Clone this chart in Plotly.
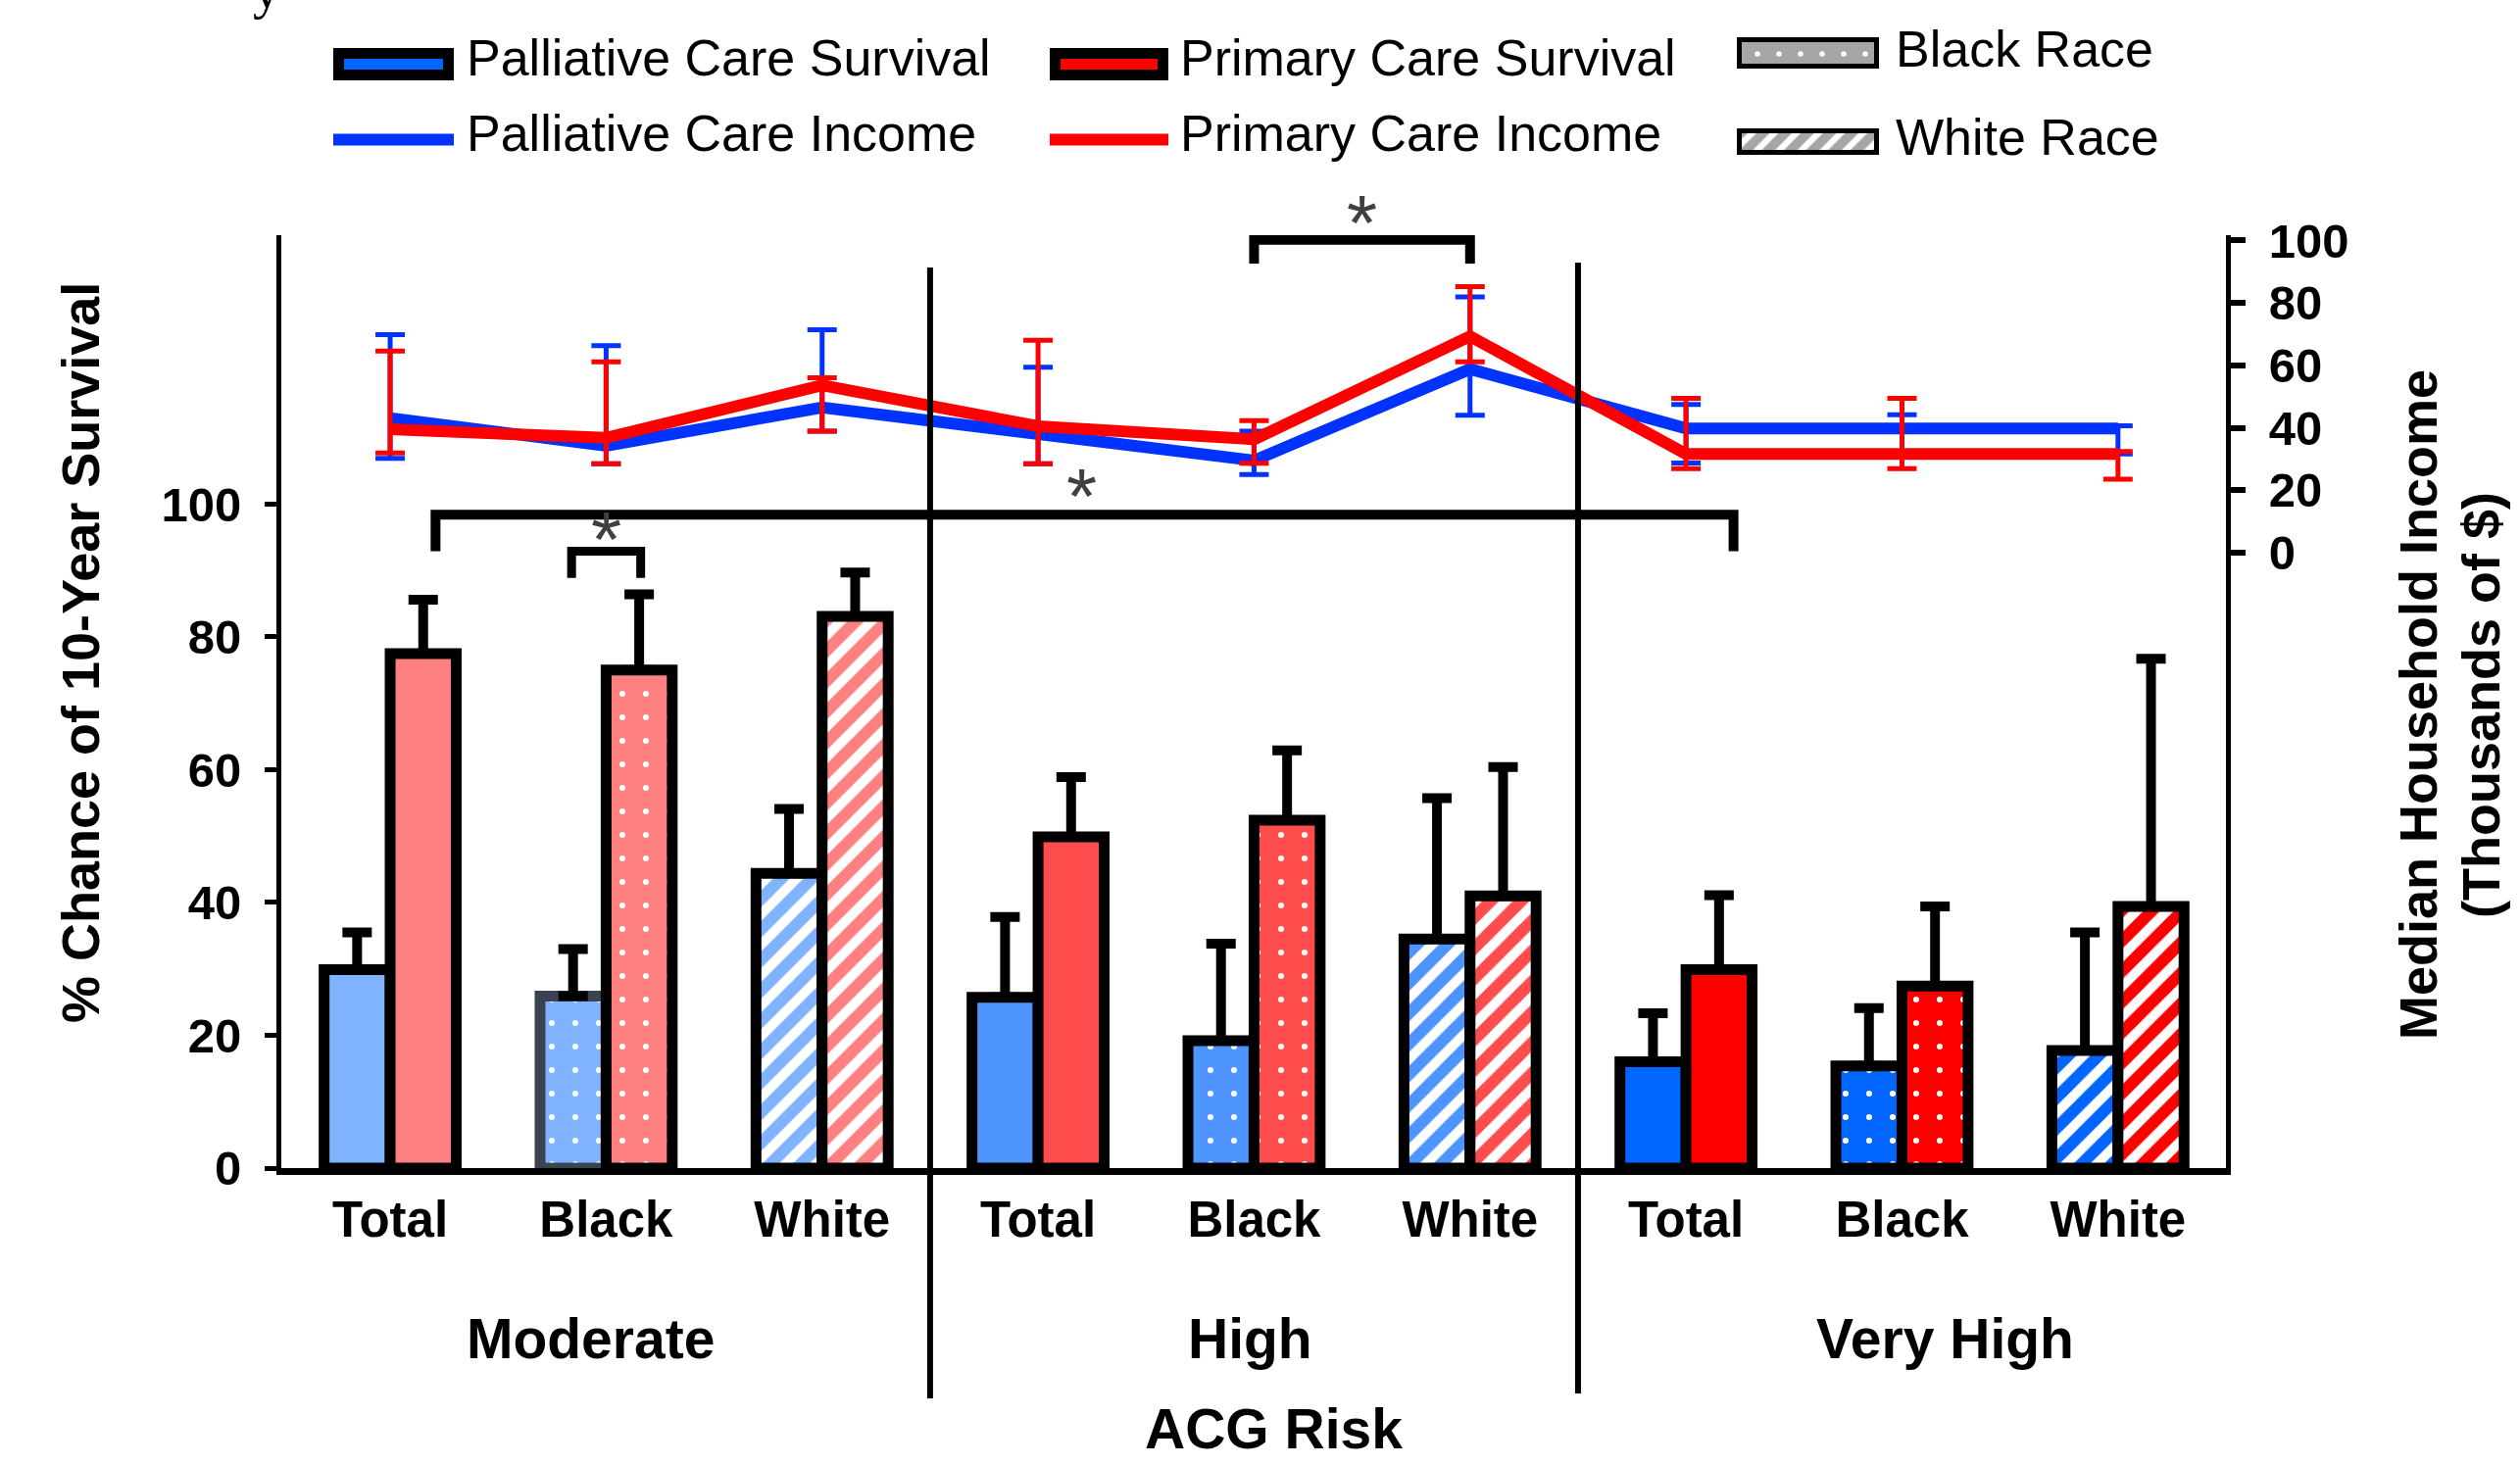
import plotly.graph_objects as go

W, H = 2571, 1495

# ---------------- data ----------------
risk_groups = ["Moderate", "High", "Very High"]
category_labels = ["Total", "Black", "White",
                   "Total", "Black", "White",
                   "Total", "Black", "White"]
race_pattern = ["", ".", "/", "", ".", "/", "", ".", "/"]

# % chance of 10-year survival (bars) and upper error limits
palliative_survival = [29.9, 25.9, 44.4, 25.7, 19.2, 34.5, 16.0, 15.4, 17.7]
palliative_survival_upper = [35.5, 33.0, 54.1, 37.8, 33.8, 55.7, 23.3, 24.1, 35.5]
primary_survival = [77.5, 75.0, 83.1, 49.9, 52.4, 41.0, 29.9, 27.4, 39.4]
primary_survival_upper = [85.6, 86.4, 89.7, 58.9, 62.9, 60.4, 41.1, 39.4, 76.7]

# median household income (thousands of $) lines with error limits
palliative_income = [43.1, 34.2, 46.5, 38.0, 29.5, 58.8, 39.8, 39.8, 39.8]
palliative_income_upper = [69.8, 66.3, 71.4, 59.4, 38.9, 81.9, 47.5, 44.2, 40.6]
palliative_income_lower = [30.2, 28.5, 38.9, 28.5, 25.0, 44.0, 28.7, 31.6, 31.6]
primary_income = [39.5, 36.8, 53.6, 40.5, 36.3, 69.3, 31.6, 31.6, 31.6]
primary_income_upper = [64.6, 61.1, 56.0, 68.0, 42.3, 85.2, 49.4, 49.4, 32.4]
primary_income_lower = [31.9, 28.5, 38.9, 28.5, 28.6, 61.1, 26.9, 26.9, 23.5]

survival_ticks = [0, 20, 40, 60, 80, 100]
income_ticks = [0, 20, 40, 60, 80, 100]

# significance markers: (axis, x start, x end, top level, leg length)
sig_brackets = [
    ("y2", 4.0, 5.0, 100.2, 7.6),
    ("y", 0.21, 6.22, 98.4, 5.5),
    ("y", 0.84, 1.16, 92.9, 4.0),
]
# stars: (axis, x, y)  -- the top one sits above the income axis range (pixel row)
sig_stars = [("y", 3.2, 101.8), ("y", 1.0, 95.3)]
top_star = (4.5, 224)

# ---------------- style ----------------
FONT = "Liberation Sans, Arial, sans-serif"
blue_by_group = ["#80b3ff", "#4d94ff", "#0066ff"]
red_by_group = ["#ff8080", "#ff4d4d", "#ff0000"]
INC_BLUE, INC_RED = "#0033ff", "#ff0000"

PL, PR, PT, PB = 287, 2271, 240, 1192  # plot area in pixels
def pxx(v):
    return v / W
def pxy(v):
    return 1 - v / H

x_pos = list(range(len(category_labels)))

fig = go.Figure()

def add_survival_bars(values, upper, colors, group_id, name):
    for g in range(len(risk_groups)):
        sl = slice(3 * g, 3 * g + 3)
        pats = race_pattern[sl]
        line_cols = ["black"] * 3
        if group_id == "pall" and g == 0:
            line_cols = ["black", "#3c4350", "black"]
        fig.add_trace(go.Bar(
            x=x_pos[sl], y=values[sl], name=name, offsetgroup=group_id,
            marker=dict(color=colors[g], line=dict(color=line_cols, width=11),
                        pattern=dict(shape=pats, fillmode="overlay", bgcolor=colors[g],
                                     fgcolor="white", fgopacity=1,
                                     size=[22 if p == "/" else 24 for p in pats],
                                     solidity=[0.45 if p == "/" else 0.05 for p in pats])),
            error_y=dict(type="data", symmetric=False,
                         array=[u - v for u, v in zip(upper[sl], values[sl])],
                         arrayminus=[0] * 3, color="black", thickness=10, width=15),
            showlegend=False))

add_survival_bars(palliative_survival, palliative_survival_upper, blue_by_group, "pall",
                  "Palliative Care Survival")
add_survival_bars(primary_survival, primary_survival_upper, red_by_group, "prim",
                  "Primary Care Survival")

for vals, up, lo, col, nm in [
        (palliative_income, palliative_income_upper, palliative_income_lower, INC_BLUE, "Palliative Care Income"),
        (primary_income, primary_income_upper, primary_income_lower, INC_RED, "Primary Care Income")]:
    fig.add_trace(go.Scatter(
        x=x_pos, y=vals, yaxis="y2", mode="lines", name=nm,
        line=dict(color=col, width=12),
        error_y=dict(type="data", symmetric=False,
                     array=[u - v for u, v in zip(up, vals)],
                     arrayminus=[v - l for v, l in zip(vals, lo)],
                     color=col, thickness=5, width=15),
        showlegend=False))

# ---------------- custom legend (pixel axes) ----------------
legend_swatches = [
    # x0, width, y centre, height, fill, outline width, pattern, size, solidity
    (345.5, 112, 65.5, 22, "#0066ff", 11, "", 14, 0.3),
    (1076.5, 110, 65.5, 22, "#ff0000", 11, "", 14, 0.3),
    (1774.5, 140, 54, 27, "#a6a6a6", 5, ".", 22, 0.05),
    (1774.5, 140, 144.5, 22, "#a6a6a6", 5, "/", 16, 0.4),
]
for x0, w, yc, h, col, lw, pat, ps, pso in legend_swatches:
    fig.add_trace(go.Bar(
        orientation="h", x=[w], base=[x0], y=[yc], width=[h], offset=[-h / 2],
        offsetgroup="leg",
        marker=dict(color=col, line=dict(color="black", width=lw),
                    pattern=dict(shape=pat, fillmode="overlay", bgcolor=col,
                                 fgcolor="white", fgopacity=1, size=ps, solidity=pso)),
        xaxis="x3", yaxis="y3", showlegend=False, hoverinfo="skip"))
for x0, x1, col in [(340, 463, INC_BLUE), (1071, 1192, INC_RED)]:
    fig.add_trace(go.Scatter(x=[x0, x1], y=[142.5, 142.5], mode="lines",
                             line=dict(color=col, width=12), xaxis="x3", yaxis="y3",
                             showlegend=False, hoverinfo="skip"))

legend_texts = [("Palliative Care Survival", 474, 59), ("Primary Care Survival", 1202, 59),
                ("Black Race", 1932, 50), ("Palliative Care Income", 474, 136),
                ("Primary Care Income", 1202, 136), ("White Race", 1932, 140)]

annotations = []
for txt, lx, ly in legend_texts:
    annotations.append(dict(text=txt, x=pxx(lx), y=pxy(ly), xref="paper", yref="paper",
                            xanchor="left", yanchor="middle", showarrow=False,
                            font=dict(family=FONT, size=52, color="black")))

# axis titles
annotations.append(dict(text="% Chance of 10-Year Survival", x=pxx(82), y=pxy(666),
                        xref="paper", yref="paper", textangle=-90, showarrow=False,
                        xanchor="center", yanchor="middle",
                        font=dict(family=FONT, size=54, color="black", weight="bold")))
annotations.append(dict(text="Median Household Income", x=pxx(2467), y=pxy(719),
                        xref="paper", yref="paper", textangle=-90, showarrow=False,
                        xanchor="center", yanchor="middle",
                        font=dict(family=FONT, size=54, color="black", weight="bold")))
annotations.append(dict(text="(Thousands of $)", x=pxx(2531), y=pxy(720),
                        xref="paper", yref="paper", textangle=-90, showarrow=False,
                        xanchor="center", yanchor="middle",
                        font=dict(family=FONT, size=54, color="black", weight="bold")))
for g, gx in zip(risk_groups, [0.93, 3.98, 7.2]):
    annotations.append(dict(text=g, x=gx, y=pxy(1366), xref="x", yref="paper",
                            showarrow=False, xanchor="center", yanchor="middle",
                            font=dict(family=FONT, size=57, color="black", weight="bold")))
annotations.append(dict(text="ACG Risk", x=pxx(1299), y=pxy(1458), xref="paper", yref="paper",
                        showarrow=False, xanchor="center", yanchor="middle",
                        font=dict(family=FONT, size=57, color="black", weight="bold")))
# cut-off title fragment at the top edge (pixel axes, so it does not push margins)
annotations.append(dict(text="y", x=272, y=22, xref="x3", yref="y3",
                        xanchor="center", yanchor="bottom", showarrow=False,
                        font=dict(family="Liberation Serif, serif", size=56, color="black")))

STAR_FONT = dict(family=FONT, size=80, color="#404040")
for ax, sx, sy in sig_stars:
    annotations.append(dict(text="*", x=sx, y=sy, xref="x", yref=ax, showarrow=False,
                            xanchor="center", yanchor="middle", yshift=-4, font=STAR_FONT))
annotations.append(dict(text="*", x=top_star[0], y=pxy(top_star[1]), xref="x", yref="paper",
                        showarrow=False, xanchor="center", yanchor="middle", yshift=-4,
                        font=STAR_FONT))

shapes = []
for dx, ytop, ybot in [(2.5, 273, 1427), (5.5, 268, 1422)]:
    shapes.append(dict(type="line", xref="x", yref="paper", x0=dx, x1=dx,
                       y0=pxy(ybot), y1=pxy(ytop),
                       line=dict(color="black", width=6)))
for ax, x0, x1, top, leg in sig_brackets:
    shapes.append(dict(type="path", xref="x", yref=ax,
                       path=f"M{x0},{top - leg} L{x0},{top} L{x1},{top} L{x1},{top - leg}",
                       line=dict(color="black", width=10 if x1 - x0 > 0.5 else 9)))

fig.update_layout(
    template="none",
    width=W, height=H, margin=dict(l=0, r=0, t=0, b=0, pad=0), autosize=False,
    paper_bgcolor="white", plot_bgcolor="rgba(0,0,0,0)",
    barmode="group", bargap=0.388, bargroupgap=0,
    font=dict(family=FONT, color="black"),
    xaxis=dict(domain=[pxx(PL), pxx(PR)], range=[-0.504, 8.5], automargin=False,
               tickmode="array", tickvals=x_pos, ticktext=category_labels,
               ticks="", showline=True, linewidth=7, linecolor="black",
               showgrid=False, zeroline=False, ticklabelstandoff=2,
               tickfont=dict(family=FONT, size=51, color="black", weight="bold")),
    yaxis=dict(domain=[pxy(PB), pxy(PT)], range=[0, 140.5], automargin=False,
               tickmode="array", tickvals=survival_ticks,
               ticks="outside", ticklen=12, tickwidth=5, tickcolor="black",
               showline=True, linewidth=5, linecolor="black",
               showgrid=False, zeroline=False, ticklabelstandoff=14,
               tickfont=dict(family=FONT, size=49, color="black", weight="bold")),
    yaxis2=dict(overlaying="y", side="right", anchor="x", range=[-197.2, 101.7],
                automargin=False,
                tickmode="array", tickvals=income_ticks,
                ticks="outside", ticklen=15, tickwidth=6, tickcolor="black",
                showline=True, linewidth=5, linecolor="black",
                showgrid=False, zeroline=False, ticklabelstandoff=14,
                tickfont=dict(family=FONT, size=49, color="black", weight="bold")),
    xaxis3=dict(domain=[0, 1], range=[0, W], visible=False, anchor="y3",
                fixedrange=True, automargin=False),
    yaxis3=dict(domain=[0, 1], range=[H, 0], visible=False, anchor="x3",
                fixedrange=True, automargin=False),
    annotations=annotations, shapes=shapes, showlegend=False,
)

fig.write_html("out.html", config={"displayModeBar": False},
               post_script="document.body.style.margin='0px';document.body.style.overflow='hidden';")
